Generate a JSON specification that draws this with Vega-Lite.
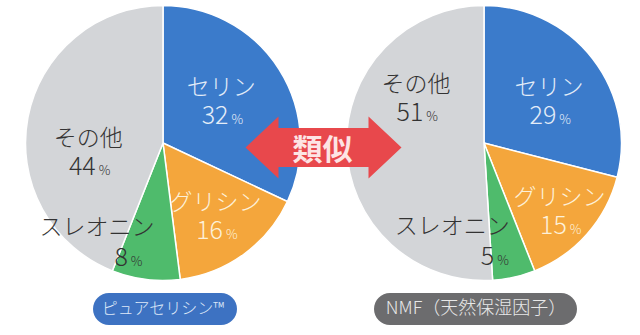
{
  "$schema": "https://vega.github.io/schema/vega-lite/v6.json",
  "width": 640,
  "height": 335,
  "padding": 0,
  "autosize": {"type": "none"},
  "background": "white",
  "config": {
    "view": {"stroke": null},
    "text": {"font": "Noto Sans CJK JP"}
  },
  "datasets": {
    "shares": [
      {"sample": "ピュアセリシン™", "name": "セリン", "value": 32, "order": 1},
      {"sample": "ピュアセリシン™", "name": "グリシン", "value": 16, "order": 2},
      {"sample": "ピュアセリシン™", "name": "スレオニン", "value": 8, "order": 3},
      {"sample": "ピュアセリシン™", "name": "その他", "value": 44, "order": 4},
      {"sample": "NMF（天然保湿因子）", "name": "セリン", "value": 29, "order": 1},
      {"sample": "NMF（天然保湿因子）", "name": "グリシン", "value": 15, "order": 2},
      {"sample": "NMF（天然保湿因子）", "name": "スレオニン", "value": 5, "order": 3},
      {"sample": "NMF（天然保湿因子）", "name": "その他", "value": 51, "order": 4}
    ],
    "samples": [
      {"sample": "ピュアセリシン™"},
      {"sample": "NMF（天然保湿因子）"}
    ],
    "link": [
      {"sample": "類似", "label": "類似"}
    ]
  },
  "encoding": {
    "x": {
      "field": "sample",
      "type": "nominal",
      "axis": null,
      "scale": {
        "type": "point",
        "domain": ["ピュアセリシン™", "類似", "NMF（天然保湿因子）"],
        "range": [163, 484],
        "padding": 0
      }
    }
  },
  "layer": [
    {
      "data": {"name": "shares"},
      "transform": [
        {"stack": "value", "groupby": ["sample"], "sort": [{"field": "order", "order": "ascending"}], "as": ["v0", "v1"]}
      ],
      "mark": {"type": "arc", "outerRadius": 137.5, "stroke": "white", "strokeWidth": 1.5},
      "encoding": {
        "y": {"datum": "pie", "type": "nominal", "axis": null, "scale": {"type": "point", "domain": ["pie", "tag"], "range": [143, 309], "padding": 0}},
        "theta": {"field": "v0", "type": "quantitative", "scale": {"domain": [0, 100]}},
        "theta2": {"field": "v1"},
        "color": {
          "field": "name",
          "type": "nominal",
          "legend": null,
          "scale": {
            "domain": ["セリン", "グリシン", "スレオニン", "その他"],
            "range": ["#3b7bcb", "#f4a63c", "#4fbb6c", "#d3d5d8"]
          }
        },
        "order": {"field": "order"}
      }
    },
    {
      "data": {"name": "shares"},
      "transform": [
        {"stack": "value", "groupby": ["sample"], "sort": [{"field": "order", "order": "ascending"}], "as": ["v0", "v1"]},
        {"calculate": "(datum.v0 + datum.v1) / 2", "as": "mid"},
        {"calculate": "datum.sample === 'NMF（天然保湿因子）'", "as": "isNmf"},
        {"calculate": "datum.name === 'スレオニン' ? 4 : datum.name === 'その他' ? (datum.isNmf ? 8 : 0) : datum.name === 'セリン' ? (datum.isNmf ? 5 : -6) : (datum.isNmf ? 2 : -5)", "as": "nudgeX"},
        {"calculate": "datum.name === 'その他' ? (datum.isNmf ? -46 : 24) : datum.name === 'セリン' ? (datum.isNmf ? 6 : 0) : datum.name === 'グリシン' ? (datum.isNmf ? 4 : -5) : 0", "as": "nudgeY"}
      ],
      "layer": [
        {
          "mark": {
            "type": "text",
            "fontSize": 23,
            "fontWeight": 300,
            "radius": {"expr": "datum.name === 'グリシン' ? 98 : datum.name === 'スレオニン' ? 100 : 76"},
            "align": {"expr": "datum.name === 'スレオニン' ? 'right' : 'center'"},
            "baseline": "middle",
            "dx": {"expr": "datum.nudgeX"},
            "dy": {"expr": "-14 + datum.nudgeY"},
            "fill": {"expr": "datum.name === 'セリン' ? '#e3ecf8' : datum.name === 'グリシン' ? '#fdf0d8' : '#333333'"}
          },
          "encoding": {
            "y": {"datum": "pie", "type": "nominal"},
            "theta": {"field": "mid", "type": "quantitative", "stack": null},
            "text": {"field": "name"}
          }
        },
        {
          "mark": {
            "type": "text",
            "fontSize": 25,
            "fontWeight": 300,
            "radius": {"expr": "datum.name === 'グリシン' ? 98 : datum.name === 'スレオニン' ? 100 : 76"},
            "align": "right",
            "baseline": "middle",
            "dx": {"expr": "6.9 * length(toString(datum.value)) - 6.5 + (datum.name === 'スレオニン' ? (datum.isNmf ? -12 : -23) : datum.nudgeX)"},
            "dy": {"expr": "14 + (datum.name === 'スレオニン' ? 2 : datum.nudgeY)"},
            "fill": {"expr": "datum.name === 'セリン' ? '#e3ecf8' : datum.name === 'グリシン' ? '#fdf0d8' : '#333333'"}
          },
          "encoding": {
            "y": {"datum": "pie", "type": "nominal"},
            "theta": {"field": "mid", "type": "quantitative", "stack": null},
            "text": {"field": "value"}
          }
        },
        {
          "mark": {
            "type": "text",
            "fontSize": 13,
            "fontWeight": 300,
            "radius": {"expr": "datum.name === 'グリシン' ? 98 : datum.name === 'スレオニン' ? 100 : 76"},
            "align": "left",
            "baseline": "middle",
            "dx": {"expr": "6.9 * length(toString(datum.value)) - 3.5 + (datum.name === 'スレオニン' ? (datum.isNmf ? -12 : -23) : datum.nudgeX)"},
            "dy": {"expr": "18 + (datum.name === 'スレオニン' ? 2 : datum.nudgeY)"},
            "fill": {"expr": "datum.name === 'セリン' ? '#e3ecf8' : datum.name === 'グリシン' ? '#fdf0d8' : '#333333'"}
          },
          "encoding": {
            "y": {"datum": "pie", "type": "nominal"},
            "theta": {"field": "mid", "type": "quantitative", "stack": null},
            "text": {"value": "%"}
          }
        }
      ]
    },
    {
      "data": {"name": "link"},
      "mark": {
        "type": "point",
        "filled": true,
        "size": 4,
        "opacity": 1,
        "color": "#e8484c",
        "shape": "M -78 4.5 L -45 -26.5 L -45 -15 L 45 -15 L 45 -26.5 L 78 4.5 L 45 35.5 L 45 24 L -45 24 L -45 35.5 Z"
      },
      "encoding": {
        "y": {"datum": "pie", "type": "nominal"}
      }
    },
    {
      "data": {"name": "link"},
      "mark": {"type": "text", "fontSize": 30, "fontWeight": "bold", "fill": "#fde4e4", "dx": -1, "dy": 8, "baseline": "middle", "align": "center"},
      "encoding": {
        "y": {"datum": "pie", "type": "nominal"},
        "text": {"field": "label"}
      }
    },
    {
      "data": {"name": "samples"},
      "transform": [{"filter": "datum.sample === 'ピュアセリシン™'"}],
      "mark": {
        "type": "point",
        "filled": true,
        "size": 4,
        "opacity": 1,
        "color": "#3d72c2",
        "shape": "M -54 -16 L 58 -16 A 16 16 0 0 1 58 16 L -54 16 A 16 16 0 0 1 -54 -16 Z"
      },
      "encoding": {
        "y": {"datum": "tag", "type": "nominal"}
      }
    },
    {
      "data": {"name": "samples"},
      "transform": [{"filter": "datum.sample === 'NMF（天然保湿因子）'"}],
      "mark": {
        "type": "point",
        "filled": true,
        "size": 4,
        "opacity": 1,
        "color": "#6c6c6e",
        "shape": "M -94 -16 L 77 -16 A 16 16 0 0 1 77 16 L -94 16 A 16 16 0 0 1 -94 -16 Z"
      },
      "encoding": {
        "y": {"datum": "tag", "type": "nominal"}
      }
    },
    {
      "data": {"name": "samples"},
      "mark": {
        "type": "text",
        "fontSize": {"expr": "datum.sample === 'NMF（天然保湿因子）' ? 18 : 16"},
        "fontWeight": 300,
        "baseline": "middle",
        "align": "center",
        "dx": {"expr": "datum.sample === 'NMF（天然保湿因子）' ? -8 : 0"},
        "fill": {"expr": "datum.sample === 'NMF（天然保湿因子）' ? '#e8e8e8' : '#dde8f8'"}
      },
      "encoding": {
        "y": {"datum": "tag", "type": "nominal"},
        "text": {"field": "sample"}
      }
    }
  ]
}
